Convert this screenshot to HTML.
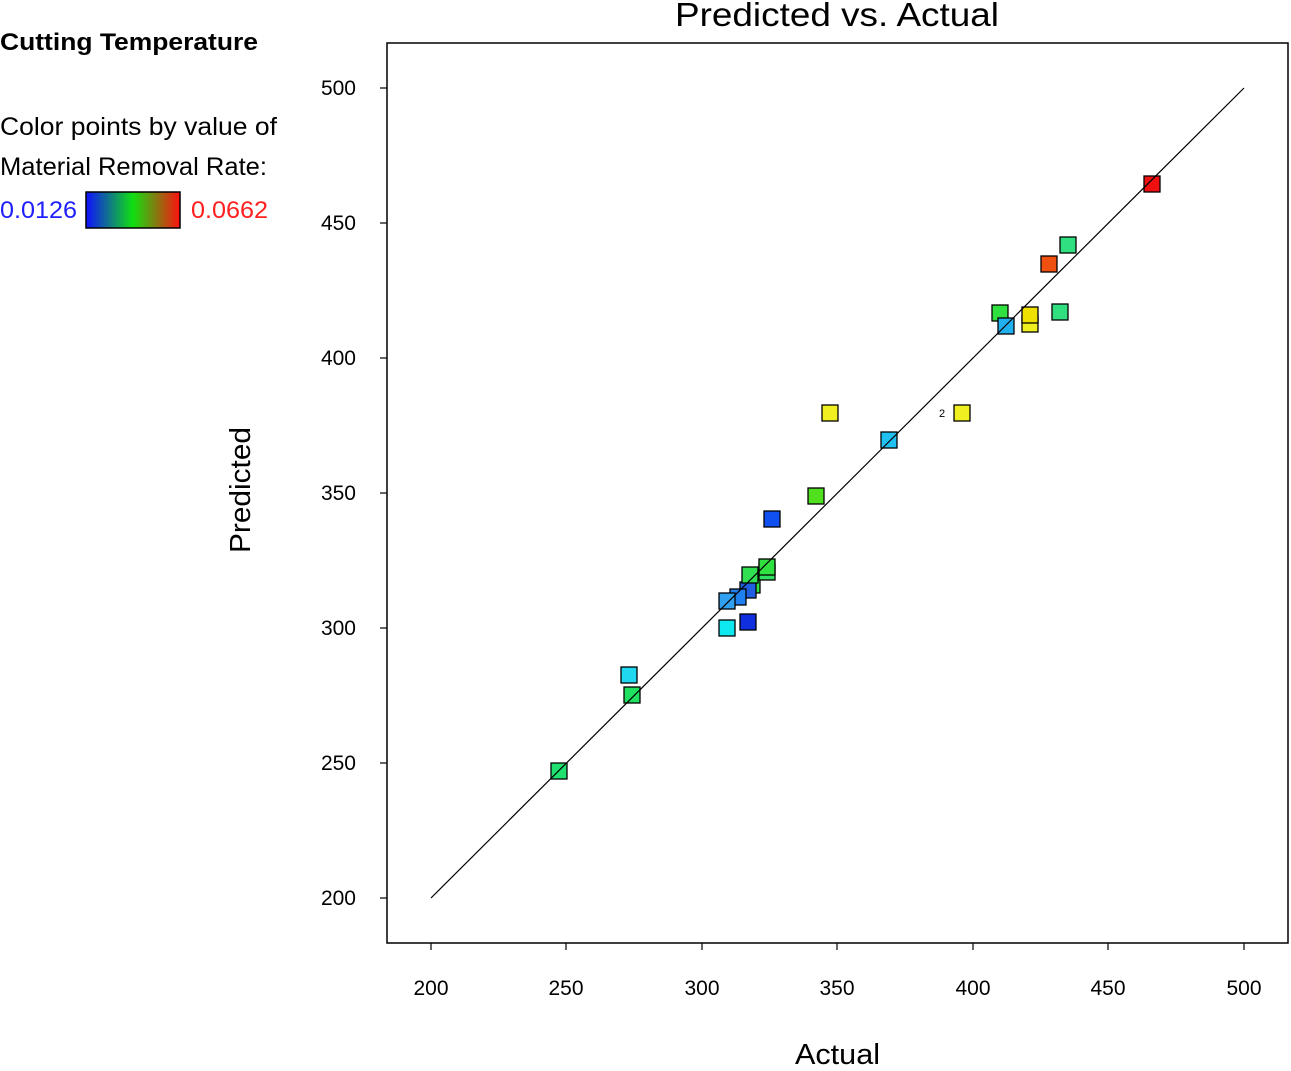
<!DOCTYPE html>
<html><head><style>
body{margin:0;background:#fff;}
svg text{font-family:"Liberation Sans",sans-serif;}
</style></head><body>
<svg width="1291" height="1066" viewBox="0 0 1291 1066" xmlns="http://www.w3.org/2000/svg">
<defs><linearGradient id="g" x1="0" x2="1"><stop offset="0" stop-color="#1010ff"/><stop offset="0.5" stop-color="#10e010"/><stop offset="1" stop-color="#ff1010"/></linearGradient></defs>
<text x="0" y="50" font-size="24" font-weight="bold" textLength="258" lengthAdjust="spacingAndGlyphs">Cutting Temperature</text>
<text x="0" y="135" font-size="25" textLength="277" lengthAdjust="spacingAndGlyphs">Color points by value of</text>
<text x="0" y="175" font-size="25" textLength="267" lengthAdjust="spacingAndGlyphs">Material Removal Rate:</text>
<text x="0" y="218" font-size="24" fill="#2020ff" textLength="77" lengthAdjust="spacingAndGlyphs">0.0126</text>
<rect x="86" y="192" width="94" height="36" fill="url(#g)" stroke="#000" stroke-width="1.5"/>
<text x="191" y="218" font-size="24" fill="#ff2020" textLength="77" lengthAdjust="spacingAndGlyphs">0.0662</text>
<text x="675" y="26" font-size="33" textLength="324" lengthAdjust="spacingAndGlyphs">Predicted vs. Actual</text>
<rect x="387" y="43" width="901" height="900" fill="none" stroke="#000" stroke-width="1.5"/>
<g stroke="#000" stroke-width="1.2">
<line x1="380" y1="88" x2="387" y2="88"/><line x1="380" y1="223" x2="387" y2="223"/><line x1="380" y1="358" x2="387" y2="358"/><line x1="380" y1="493" x2="387" y2="493"/><line x1="380" y1="628" x2="387" y2="628"/><line x1="380" y1="763" x2="387" y2="763"/><line x1="380" y1="898" x2="387" y2="898"/>
<line x1="431" y1="943" x2="431" y2="950"/><line x1="566" y1="943" x2="566" y2="950"/><line x1="702" y1="943" x2="702" y2="950"/><line x1="837" y1="943" x2="837" y2="950"/><line x1="973" y1="943" x2="973" y2="950"/><line x1="1108" y1="943" x2="1108" y2="950"/><line x1="1244" y1="943" x2="1244" y2="950"/>
</g>
<g font-size="21" text-anchor="end">
<text x="356" y="95">500</text><text x="356" y="230">450</text><text x="356" y="365">400</text><text x="356" y="500">350</text><text x="356" y="635">300</text><text x="356" y="770">250</text><text x="356" y="905">200</text>
</g>
<g font-size="21" text-anchor="middle">
<text x="431" y="995">200</text><text x="566" y="995">250</text><text x="702" y="995">300</text><text x="837" y="995">350</text><text x="973" y="995">400</text><text x="1108" y="995">450</text><text x="1244" y="995">500</text>
</g>
<text x="795" y="1064" font-size="29" textLength="85" lengthAdjust="spacingAndGlyphs">Actual</text>
<text transform="translate(250,553) rotate(-90)" font-size="29" textLength="126" lengthAdjust="spacingAndGlyphs">Predicted</text>
<text x="942" y="417" font-size="11" text-anchor="middle">2</text>
<g stroke="#000" stroke-width="1.3">
<rect x="551" y="763" width="16" height="16" fill="#20e070"/>
<rect x="624" y="687" width="16" height="16" fill="#20e060"/>
<rect x="621" y="667" width="16" height="16" fill="#20d8f0"/>
<rect x="719" y="620" width="16" height="16" fill="#10e8f0"/>
<rect x="740" y="614" width="16" height="16" fill="#1030e0"/>
<rect x="744" y="577" width="16" height="16" fill="#30e040"/>
<rect x="740" y="582" width="16" height="16" fill="#2060e0"/>
<rect x="742" y="567" width="16" height="16" fill="#30e050"/>
<rect x="759" y="564" width="16" height="16" fill="#30e060"/>
<rect x="759" y="559" width="16" height="16" fill="#30e040"/>
<rect x="730" y="589" width="16" height="16" fill="#2080f0"/>
<rect x="719" y="593" width="16" height="16" fill="#30a0f0"/>
<rect x="764" y="511" width="16" height="16" fill="#1050f0"/>
<rect x="808" y="488" width="16" height="16" fill="#50e020"/>
<rect x="822" y="405" width="16" height="16" fill="#f0f020"/>
<rect x="954" y="405" width="16" height="16" fill="#f0f020"/>
<rect x="881" y="432" width="16" height="16" fill="#20c0f0"/>
<rect x="992" y="305" width="16" height="16" fill="#30e040"/>
<rect x="998" y="318" width="16" height="16" fill="#20b0f0"/>
<rect x="1022" y="316" width="16" height="16" fill="#f0f020"/>
<rect x="1022" y="307" width="16" height="16" fill="#f0e000"/>
<rect x="1052" y="304" width="16" height="16" fill="#30e080"/>
<rect x="1041" y="256" width="16" height="16" fill="#f05010"/>
<rect x="1060" y="237" width="16" height="16" fill="#30e080"/>
<rect x="1144" y="176" width="16" height="16" fill="#f01010"/>
</g>
<line x1="431" y1="898" x2="1244" y2="88" stroke="#000" stroke-width="1.2"/>
</svg>
</body></html>
